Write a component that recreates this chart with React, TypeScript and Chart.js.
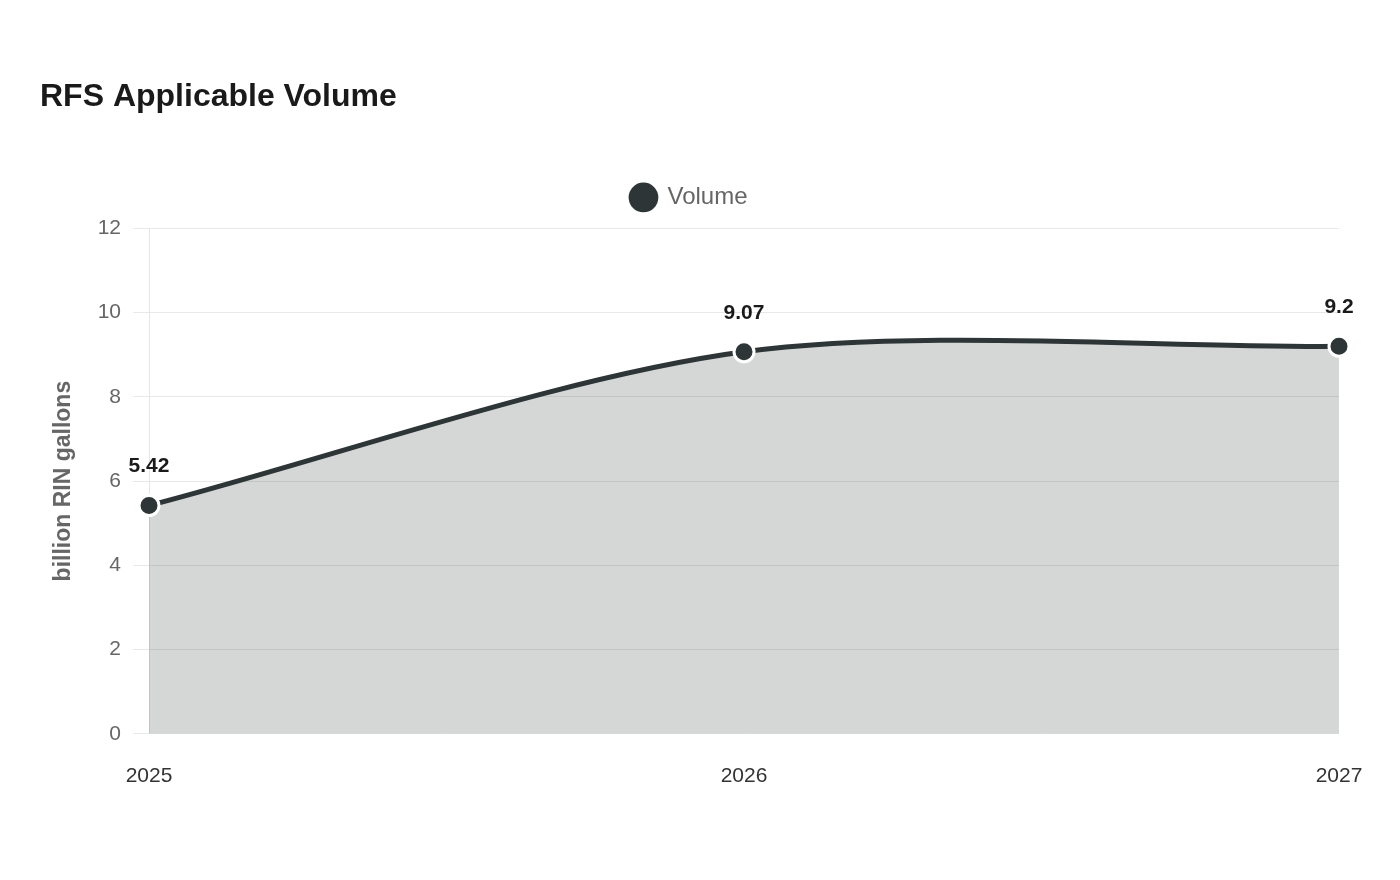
import React, { useEffect, useRef } from "react";
import { Chart, registerables, layouts } from "chart.js";

Chart.register(...registerables);

const categories = ["2025", "2026", "2027"];
const volumeValues = [5.42, 9.07, 9.2];
const volumeLabels = ["5.42", "9.07", "9.2"];
const yTicks = [0, 2, 4, 6, 8, 10, 12];

const LINE = "#2e3537";
const FONT = "'Liberation Sans', Arial, sans-serif";

const dataLabelPlugin = {
  id: "dataLabels",
  afterDatasetsDraw(chart: any) {
    const meta = chart.getDatasetMeta(0);
    const ctx = chart.ctx;
    ctx.save();
    ctx.font = `bold 21px ${FONT}`;
    ctx.fillStyle = "#1a1a1a";
    ctx.textAlign = "center";
    ctx.textBaseline = "middle";
    meta.data.forEach((pt: any, i: number) => {
      ctx.fillText(volumeLabels[i], pt.x, pt.y - 39);
    });
    ctx.restore();
  },
};

const spacerPlugin = {
  id: "legendSpacer",
  beforeInit(chart: any) {
    const box: any = {
      position: "top",
      weight: 0,
      fullSize: true,
      options: { position: "top", fullSize: true, weight: 0 },
      top: 0,
      left: 0,
      right: 0,
      bottom: 0,
      width: 0,
      height: 0,
      isHorizontal() {
        return true;
      },
      getPadding() {
        return { top: 0, left: 0, right: 0, bottom: 0 };
      },
      update(maxWidth: number) {
        this.width = maxWidth;
        this.height = 9;
        return { width: this.width, height: this.height };
      },
      draw() {},
    };
    layouts.addBox(chart, box);
  },
};

export default function App() {
  const ref = useRef<HTMLCanvasElement | null>(null);

  useEffect(() => {
    if (!ref.current) return;
    const chart = new Chart(ref.current, {
      type: "line",
      data: {
        labels: categories,
        datasets: [
          {
            label: "Volume",
            data: volumeValues,
            borderColor: LINE,
            backgroundColor: "rgba(46,53,55,0.2)",
            borderWidth: 5,
            fill: "origin",
            tension: 0.3,
            pointRadius: 10,
            pointHoverRadius: 10,
            pointBackgroundColor: LINE,
            pointBorderColor: "#ffffff",
            pointBorderWidth: 3,
            clip: false as any,
          },
        ],
      },
      options: {
        animation: false,
        responsive: false,
        maintainAspectRatio: false,
        layout: { padding: { left: 40, right: 61, top: 0, bottom: 61 } },
        plugins: {
          title: {
            display: true,
            text: "RFS Applicable Volume",
            align: "start",
            color: "#1a1a1a",
            font: { family: FONT, size: 32, weight: "bold" },
            padding: { top: 78, bottom: 59 },
          },
          legend: {
            display: true,
            labels: {
              color: "#666666",
              font: { family: FONT, size: 24 },
              usePointStyle: true,
              boxHeight: 21,
              generateLabels: () => [
                {
                  text: "Volume",
                  fillStyle: LINE,
                  strokeStyle: LINE,
                  lineWidth: 0,
                  pointStyle: "circle",
                  datasetIndex: 0,
                  hidden: false,
                  fontColor: "#666666",
                } as any,
              ],
            },
          },
          tooltip: { enabled: false },
        },
        scales: {
          x: {
            type: "category",
            grid: { display: false, drawTicks: false },
            border: { display: false },
            ticks: {
              color: "#333333",
              font: { family: FONT, size: 21 },
              padding: 30,
              maxRotation: 0,
            },
          },
          y: {
            min: 0,
            max: 12,
            afterBuildTicks: (scale: any) => {
              scale.ticks = yTicks.map((v) => ({ value: v }));
            },
            afterFit: (scale: any) => {
              scale.width = 109;
            },
            grid: {
              color: "rgba(0,0,0,0.09)",
              tickLength: 16,
              lineWidth: 1,
            },
            border: { display: true, color: "rgba(0,0,0,0.1)" },
            ticks: {
              color: "#666666",
              font: { family: FONT, size: 21 },
              padding: 12,
            },
            title: {
              display: true,
              text: "billion RIN gallons",
              color: "#666666",
              font: { family: FONT, size: 23, weight: "bold" },
              padding: 10,
            },
          },
        },
      },
      plugins: [spacerPlugin, dataLabelPlugin],
    });
    return () => chart.destroy();
  }, []);

  return (
    <div style={{ position: "absolute", left: 0, top: 0, width: 1400, height: 880, background: "#fff" }}>
      <canvas ref={ref} width={1400} height={880} style={{ display: "block", width: 1400, height: 880 }} />
    </div>
  );
}
